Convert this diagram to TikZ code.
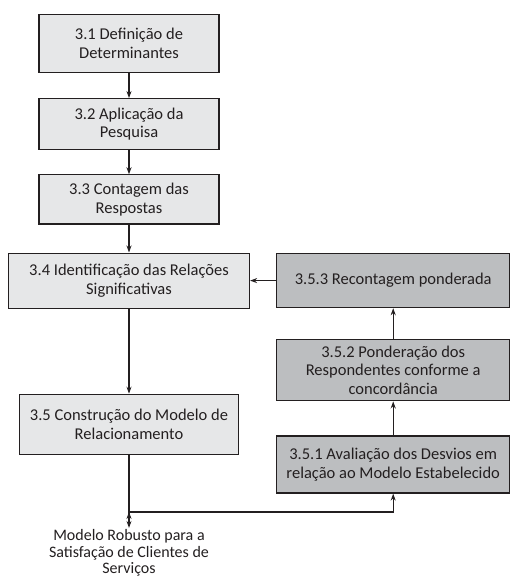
\documentclass[tikz,border=0pt]{standalone}
\usepackage{fontspec}
\setmainfont{Carlito}
\usetikzlibrary{arrows.meta, positioning}

\definecolor{boxlight}{RGB}{230,231,232}
\definecolor{boxdark}{RGB}{188,190,192}
\definecolor{boxline}{RGB}{35,31,32}

\tikzset{
  lightbox/.style = {draw=boxline, fill=boxlight, line width=1.2pt, align=center,
                     inner sep=2pt, text=boxline, font=\fontsize{16.5}{18.5}\selectfont},
  darkbox/.style  = {lightbox, fill=boxdark}
}

\begin{document}
\begin{tikzpicture}[x=1pt, y=1pt]
            \useasboundingbox (0,0) rectangle (509,-577);

            \node (d31) [lightbox, minimum width=180pt, minimum height=58pt] at (129,-43.5) {3.1 Definição de\\Determinantes};
            \node (d32) [lightbox, minimum width=180pt, minimum height=51pt, below=25pt of d31] {3.2 Aplicação da\\Pesquisa};
            \node (d33) [lightbox, minimum width=180pt, minimum height=49pt, below=24pt of d32] {3.3 Contagem das\\Respostas};
            \node (d34) [lightbox, minimum width=241pt, minimum height=55pt, below=28pt of d33] {3.4 Identificação das Relações\\Significativas};
            \node (d35) [lightbox, minimum width=219pt, minimum height=60pt, below=85pt of d34] {3.5 Construção do Modelo de\\Relacionamento};

            \node (d353) [darkbox, minimum width=233pt, minimum height=54pt, right=26pt of d34] {3.5.3 Recontagem ponderada};
            \node (d352) [darkbox, minimum width=233pt, minimum height=61pt, below=31pt of d353] {3.5.2 Ponderação dos\\Respondentes conforme a\\concordância};
            \node (d351) [darkbox, minimum width=233pt, minimum height=57pt, below=34pt of d352] {3.5.1 Avaliação dos Desvios em\\relação ao Modelo Estabelecido};

            \coordinate (junc) at ([yshift=-57pt]d35.south);
            \node (out) [align=center, inner sep=1pt, anchor=north, text=boxline, font=\fontsize{16}{16.8}\selectfont] at ([yshift=-16pt]junc) {Modelo Robusto para a\\Satisfação de Clientes de\\Serviços};

           \path[-{Stealth[length=7pt, width=5pt]}, line width=1.2pt, draw=boxline]
            (d31) edge (d32)
            (d32) edge (d33)
            (d33) edge (d34)
            (d34) edge (d35)
            (d353) edge (d34)
            (d351) edge (d352)
            (d352) edge (d353)
            (junc) edge (out);
           \draw[line width=1.2pt, draw=boxline] (d35) -- (junc);
           \draw[-{Stealth[length=7pt, width=5pt]}, line width=1.2pt, draw=boxline] (junc) -| (d351);
        \end{tikzpicture}
\end{document}
